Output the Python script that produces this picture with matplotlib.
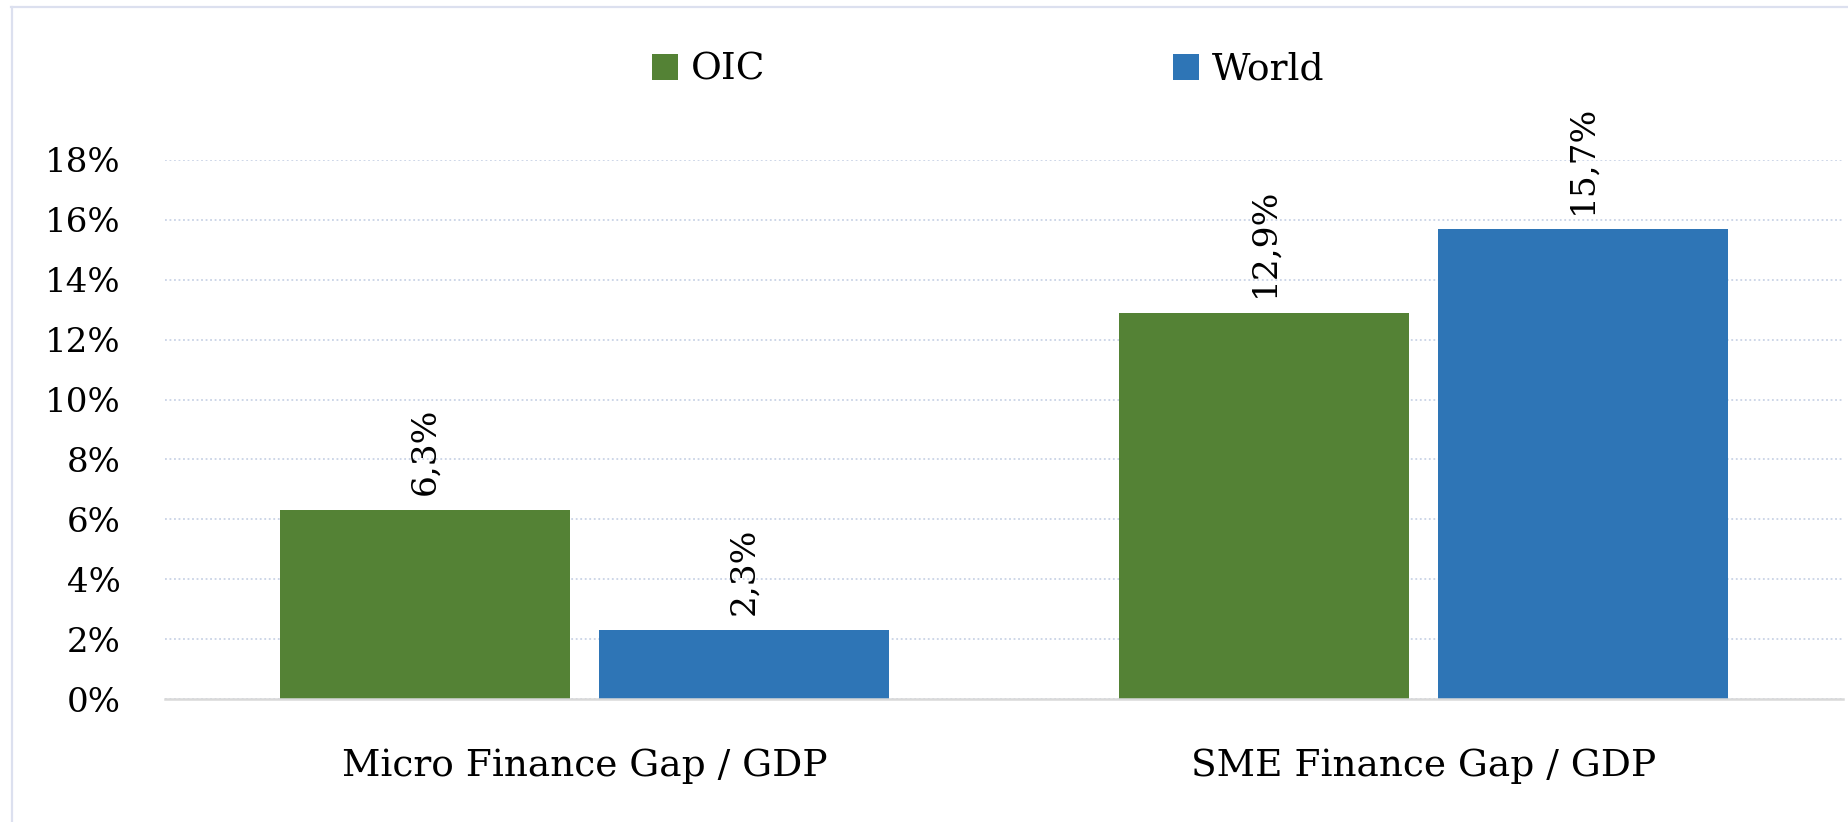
import matplotlib
matplotlib.use("Agg")
import matplotlib.pyplot as plt
from matplotlib.lines import Line2D
import numpy as np

categories = ["Micro Finance Gap / GDP", "SME Finance Gap / GDP"]
series_names = ["OIC", "World"]
oic_values = [6.3, 12.9]
world_values = [2.3, 15.7]
ytick_values = [0, 2, 4, 6, 8, 10, 12, 14, 16, 18]

colors = ["#548235", "#2E75B6"]

plt.rcParams['font.family'] = ['DejaVu Serif']

W, H = 1849, 822
fig = plt.figure(figsize=(W / 100, H / 100), dpi=100)
ax = fig.add_axes([165 / W, 1 - 699 / H, (1843 - 165) / W, (699 - 160) / H])

x = np.arange(len(categories))
bw = 0.3457
off = 0.190
for vals, name, col, o in zip([oic_values, world_values], series_names, colors, [-off, off]):
    bars = ax.bar(x + o, vals, width=bw, color=col, label=name, zorder=3)
    for b, v in zip(bars, vals):
        ax.annotate(f"{v:.1f}".replace(".", ",") + "%",
                    (b.get_x() + b.get_width() / 2, b.get_height()),
                    xytext=(0, 11), textcoords="offset points",
                    rotation=90, ha="center", va="bottom", fontsize=24.8, color="black")

ax.set_xlim(-0.5, len(categories) - 0.5)
ax.set_ylim(0, 18)
ax.set_yticks(ytick_values)
ax.set_yticklabels([f"{v}%" for v in ytick_values], fontsize=24.5)
ax.set_xticks(x)
ax.set_xticklabels(categories, fontsize=27)
ax.tick_params(axis="y", length=0, pad=32)
ax.tick_params(axis="x", length=0, pad=35)

ax.grid(axis="y", linestyle=(0, (1, 1.5)), color="#C9D3E6", linewidth=1.3, zorder=0)
ax.grid(axis="x", visible=False)
for s in ["top", "right", "left"]:
    ax.spines[s].set_visible(False)
ax.spines["bottom"].set_color("#D9D9D9")
ax.spines["bottom"].set_linewidth(1.8)
ax.spines["bottom"].set_zorder(4)

leg = fig.legend(loc="center", bbox_to_anchor=(988 / W, 1 - 70 / H), ncol=2,
                 frameon=False, fontsize=27, handlelength=0.69, handleheight=0.69,
                 handletextpad=0.35, columnspacing=10.87, borderpad=0)

# outer chart border (top and left edges visible)
fig.add_artist(Line2D([11 / W, 1], [1 - 7 / H, 1 - 7 / H], transform=fig.transFigure,
                      color="#DCE0EF", linewidth=1.6))
fig.add_artist(Line2D([12 / W, 12 / W], [0, 1 - 7 / H], transform=fig.transFigure,
                      color="#DCE0EF", linewidth=1.6))

fig.savefig("out.png", dpi=100)
